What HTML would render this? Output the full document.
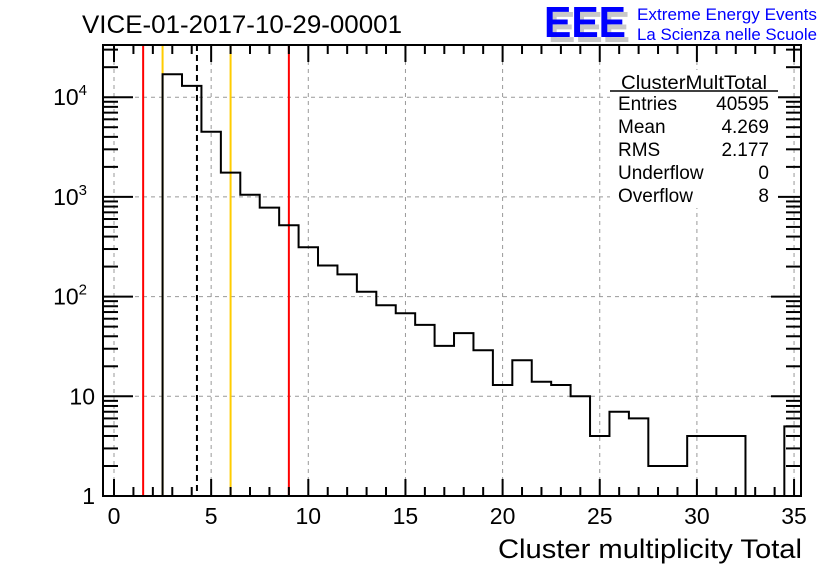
<!DOCTYPE html>
<html><head><meta charset="utf-8"><style>
body{margin:0;background:#fff;width:836px;height:572px;overflow:hidden;font-family:"Liberation Sans",sans-serif}
svg{display:block}
</style></head><body>
<svg id="chart" width="836" height="572">
<text x="82" y="33" font-size="25" textLength="320" lengthAdjust="spacingAndGlyphs">VICE-01-2017-10-29-00001</text>
<g>
<text x="548" y="42" font-size="44" font-weight="bold" fill="#c8c8c8" textLength="82" lengthAdjust="spacingAndGlyphs">EEE</text>
<text x="544" y="37" font-size="44" font-weight="bold" fill="#0000ff" textLength="82" lengthAdjust="spacingAndGlyphs">EEE</text>
<text x="637" y="20" font-size="17" fill="#0000ff" textLength="180" lengthAdjust="spacingAndGlyphs">Extreme Energy Events</text>
<text x="637" y="40" font-size="17" fill="#0000ff" textLength="180" lengthAdjust="spacingAndGlyphs">La Scienza nelle Scuole</text>
</g>
<g id="grid"></g>
<g id="lines"></g>
<path id="hist" fill="none" stroke="#000" stroke-width="2"/>
<g id="axes"></g>
<g font-size="19">
<rect x="610" y="70" width="168" height="138" fill="#fff"/>
<text x="694" y="89" text-anchor="middle" textLength="146" lengthAdjust="spacingAndGlyphs">ClusterMultTotal</text>
<line x1="610" y1="91" x2="778" y2="91" stroke="#000" stroke-width="1.5"/>
<text x="618" y="110">Entries</text><text x="769" y="110" text-anchor="end">40595</text>
<text x="618" y="133">Mean</text><text x="769" y="133" text-anchor="end">4.269</text>
<text x="618" y="156">RMS</text><text x="769" y="156" text-anchor="end">2.177</text>
<text x="618" y="179">Underflow</text><text x="769" y="179" text-anchor="end">0</text>
<text x="618" y="202">Overflow</text><text x="769" y="202" text-anchor="end">8</text>
</g>
<text x="802" y="558" font-size="27" text-anchor="end" textLength="304" lengthAdjust="spacingAndGlyphs">Cluster multiplicity Total</text>
</svg>
<script>
const binCenters=[0,1,2,3,4,5,6,7,8,9,10,11,12,13,14,15,16,17,18,19,20,21,22,23,24,25,26,27,28,29,30,31,32,33,34,35];
const counts=[0,0,0,17000,13000,4500,1750,1050,780,520,313,205,167,112,82,68,52,32,43,29,13,23,14,13,10,4,7,6,2,2,4,4,4,0,0,5];
const xTicks=[0,5,10,15,20,25,30,35];
const yTickVals=[1,10,100,1000,10000];
const yTickLabels=["1","10","10^2","10^3","10^4"];
const redLines=[1.5,9];
const orangeLines=[2.5,6];
const meanLine=[4.269];
const L=103,R=801,T=45,B=496;
const X=v=>114+v*19.43;
const Y=v=>496-Math.log10(v)*99.7;
const ns="http://www.w3.org/2000/svg";
function mk(tag,attrs,parent){const e=document.createElementNS(ns,tag);for(const k in attrs)e.setAttribute(k,attrs[k]);parent.appendChild(e);return e;}
const grid=document.getElementById('grid'),lines=document.getElementById('lines'),axes=document.getElementById('axes');
xTicks.forEach(t=>{const g=mk('line',{x1:X(t),x2:X(t),y1:T,y2:B,stroke:'#999','stroke-dasharray':'4,4'},grid);
});
yTickVals.slice(1).forEach(t=>{const g=mk('line',{x1:L,x2:R,y1:Y(t),y2:Y(t),stroke:'#999','stroke-dasharray':'4,4'},grid);
});
function vline(v,col,dash,name){const l=mk('line',{x1:X(v),x2:X(v),y1:T,y2:B,stroke:col,'stroke-width':2},lines);if(dash)l.setAttribute('stroke-dasharray',dash);
}
redLines.forEach(v=>vline(v,'#ff0000',null,'red-limit-line'));
orangeLines.forEach(v=>vline(v,'#ffcc00',null,'orange-limit-line'));
meanLine.forEach(v=>vline(v,'#000',"6,4",'mean-line'));
let d='';const ymin=B;
binCenters.forEach((c,i)=>{const y=counts[i]>0?Y(counts[i]):ymin;const x0=Math.max(L,X(c-0.5)),x1=Math.min(R,X(c+0.5));
d+=(d?'L':'M')+x0+','+y+'L'+x1+','+y;});
document.getElementById('hist').setAttribute('d',d);
const f=mk('rect',{x:L,y:T,width:R-L,height:B-T,fill:'none',stroke:'#000','stroke-width':2},axes);

for(let v=0;v<=35;v++){const len=v%5===0?17:9;
 [[B,B-len],[T,T+len]].forEach(([a,b])=>{const t=mk('line',{x1:X(v),x2:X(v),y1:a,y2:b,stroke:'#000','stroke-width':2},axes);
 });}
xTicks.forEach(v=>{const t=mk('text',{x:X(v),y:524,'font-size':23,'text-anchor':'middle'},axes);t.textContent=v;
});
for(let dec=0;dec<5;dec++){for(let m=1;m<10;m++){const v=m*Math.pow(10,dec);const y=Y(v);if(y<T)continue;const len=m===1?30:15;
 [[L,L+len],[R,R-len]].forEach(([a,b])=>{const t=mk('line',{x1:a,x2:b,y1:y,y2:y,stroke:'#000','stroke-width':2},axes);
 });}}
yTickVals.forEach((v,i)=>{const t=mk('text',{x:95,y:Y(v)+8,'font-size':23,'text-anchor':'end'},axes);
const lab=yTickLabels[i];
if(lab.includes('^')){const [b,e]=lab.split('^');t.textContent=b;const s=mk('tspan',{dy:-10,'font-size':15},t);s.textContent=e;t.setAttribute('x',87);}
else t.textContent=lab;
});
</script>
</body></html>
